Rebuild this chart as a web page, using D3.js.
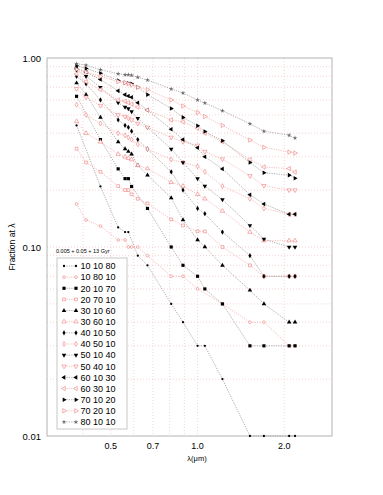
<!DOCTYPE html>
<html>
<head>
<meta charset="utf-8">
<script src="https://cdn.jsdelivr.net/npm/d3@7"></script>
<style>
  body { margin: 0; background: #fff; }
  text { font-family: "Liberation Sans", Arial, sans-serif; }
</style>
</head>
<body>
<svg id="chart"></svg>
<script>
// wavelengths (micron) of the sampled points
const wavelengths = [0.38, 0.41, 0.46, 0.53, 0.56, 0.575, 0.59, 0.62, 0.67, 0.81, 0.89, 1.0, 1.06, 1.22, 1.52, 1.70, 2.08, 2.18];

const seriesNames = ["10 10 80", "10 80 10", "20 10 70", "20 70 10", "30 10 60", "30 60 10", "40 10 50", "40 50 10",
  "50 10 40", "50 40 10", "60 10 30", "60 30 10", "70 10 20", "70 20 10", "80 10 10"];

// fraction at lambda, null = no point
const s10_10_80 = [0.44, null, 0.209, 0.127, 0.12, 0.12, null, 0.09, 0.08, 0.05, 0.04, 0.03, 0.03, 0.02, 0.01, 0.01, 0.01, 0.01];
const s10_80_10 = [0.169, 0.139, 0.129, 0.109, 0.109, 0.1, 0.1, 0.1, 0.09, 0.07, 0.07, 0.06, null, 0.05, 0.04, 0.04, 0.03, 0.03];
const s20_10_70 = [0.627, null, 0.37, 0.259, 0.23, 0.23, 0.209, null, 0.16, 0.1, 0.08, 0.07, 0.06, 0.05, 0.03, 0.03, 0.03, 0.03];
const s20_70_10 = [0.331, 0.28, 0.25, 0.21, 0.2, 0.2, 0.19, 0.18, 0.17, 0.14, 0.13, 0.121, 0.121, 0.1, 0.08, 0.07, 0.07, 0.07];
const s30_10_60 = [0.737, 0.64, 0.485, 0.36, 0.33, 0.32, 0.31, 0.27, 0.24, 0.182, 0.139, 0.109, 0.1, 0.08, 0.059, 0.05, 0.04, 0.04];
const s30_60_10 = [0.462, 0.4, 0.36, 0.31, 0.3, 0.295, 0.29, 0.27, 0.26, 0.22, 0.21, 0.19, 0.18, 0.155, 0.12, 0.108, 0.108, 0.108];
const s40_10_50 = [0.80, 0.73, 0.6, 0.47, 0.44, 0.43, 0.41, 0.37, 0.33, 0.25, 0.2, 0.16, 0.15, 0.12, 0.09, 0.07, 0.07, 0.07];
const s40_50_10 = [0.566, 0.5, 0.45, 0.4, 0.39, 0.38, 0.37, 0.35, 0.33, 0.29, 0.28, 0.267, 0.25, 0.21, 0.18, 0.16, 0.149, 0.149];
const s50_10_40 = [0.864, 0.8, 0.7, 0.58, 0.55, 0.54, 0.52, 0.48, 0.43, 0.33, 0.28, 0.23, 0.21, 0.178, 0.13, 0.11, 0.1, 0.1];
const s50_40_10 = [0.688, 0.62, 0.56, 0.5, 0.49, 0.48, 0.47, 0.45, 0.43, 0.38, 0.36, 0.345, 0.32, 0.292, 0.238, 0.211, 0.2, 0.2];
const s60_10_30 = [0.885, 0.84, 0.77, 0.67, 0.64, 0.63, 0.62, 0.58, 0.53, 0.42, 0.37, 0.335, 0.3, 0.259, 0.189, 0.169, 0.149, 0.149];
const s60_30_10 = [0.823, 0.75, 0.68, 0.6, 0.59, 0.58, 0.57, 0.55, 0.53, 0.47, 0.46, 0.425, 0.40, 0.36, 0.29, 0.265, 0.26, 0.249];
const s70_10_20 = [0.91, 0.88, 0.83, 0.76, 0.74, 0.735, 0.73, 0.7, 0.64, 0.54, 0.485, 0.438, 0.408, 0.365, 0.28, 0.247, 0.24, 0.231];
const s70_20_10 = [0.87, 0.84, 0.8, 0.75, 0.74, 0.73, 0.72, 0.7, 0.68, 0.6, 0.557, 0.515, 0.49, 0.44, 0.368, 0.337, 0.318, 0.314];
const s80_10_10 = [0.933, 0.915, 0.867, 0.826, 0.816, 0.816, 0.81, 0.79, 0.765, 0.686, 0.653, 0.6, 0.578, 0.526, 0.449, 0.41, 0.39, 0.377];

const xTicks = [0.5, 0.7, 1.0, 2.0];
const yTicks = [0.01, 0.1, 1.0];
const legendTitle = "0.005 + 0.05 + 13 Gyr";

const values = [s10_10_80, s10_80_10, s20_10_70, s20_70_10, s30_10_60, s30_60_10, s40_10_50, s40_50_10,
  s50_10_40, s50_40_10, s60_10_30, s60_30_10, s70_10_20, s70_20_10, s80_10_10];

// marker style per series: [d3 symbol, size, rotation, open?]
const markers = [
  [d3.symbolCircle, 4, 0, false], [d3.symbolCircle, 6, 0, true],
  [d3.symbolSquare, 10, 0, false], [d3.symbolSquare, 8, 0, true],
  [d3.symbolTriangle, 9, 0, false], [d3.symbolTriangle, 8, 0, true],
  [d3.symbolDiamond, 8, 0, false], [d3.symbolDiamond, 7, 0, true],
  [d3.symbolTriangle, 9, 180, false], [d3.symbolTriangle, 8, 180, true],
  [d3.symbolTriangle, 9, -90, false], [d3.symbolTriangle, 8, -90, true],
  [d3.symbolTriangle, 9, 90, false], [d3.symbolTriangle, 8, 90, true],
  [d3.symbolStar, 7, 0, false]
];

const width = 383, height = 495;
const svg = d3.select("#chart").attr("width", width).attr("height", height);

const x = d3.scaleLog().domain([0.3, 2.93]).range([47, 332]);
const y = d3.scaleLog().domain([0.01, 1]).range([436, 58]);

const grid = svg.append("g");
const minorX = [0.4, 0.5, 0.6, 0.7, 0.8, 0.9, 1, 2];
grid.selectAll("line.vx").data(minorX).enter().append("line")
  .attr("x1", d => x(d)).attr("x2", d => x(d))
  .attr("y1", y(1)).attr("y2", y(0.01))
  .attr("stroke", "#f2b5b5").attr("stroke-width", 0.6).attr("stroke-dasharray", "1,2");
const minorY = [];
[0.01, 0.1].forEach(b => { for (let k = 1; k < 10; k++) minorY.push(b * k); });
grid.selectAll("line.hy").data(minorY.filter(d => d > 0.01)).enter().append("line")
  .attr("x1", x.range()[0]).attr("x2", x.range()[1])
  .attr("y1", d => y(d)).attr("y2", d => y(d))
  .attr("stroke", "#f2b5b5").attr("stroke-width", 0.6).attr("stroke-dasharray", "1,2");

svg.append("rect")
  .attr("x", 47).attr("y", 58).attr("width", 332 - 47).attr("height", 436 - 58)
  .attr("fill", "none").attr("stroke", "#a0a0a0").attr("stroke-width", 0.8);

// series
const line = d3.line().x(d => x(d[0])).y(d => y(d[1]));
values.forEach((vals, i) => {
  const pink = i % 2 === 1;
  const pts = wavelengths.map((w, j) => [w, vals[j]]).filter(d => d[1] != null);
  const col = pink ? "#f4a0a0" : "#8a8a8a";
  svg.append("path").datum(pts)
    .attr("d", line).attr("fill", "none")
    .attr("stroke", col).attr("stroke-width", 0.7).attr("stroke-dasharray", "1.2,1.2");
  const m = markers[i];
  const sym = d3.symbol().type(m[0]).size(m[1]);
  svg.append("g").selectAll("path").data(pts).enter().append("path")
    .attr("d", sym)
    .attr("transform", d => `translate(${x(d[0])},${y(d[1])}) rotate(${m[2]})`)
    .attr("fill", m[3] ? "#fff" : (i === 14 ? "#707070" : "#000"))
    .attr("stroke", m[3] ? "#f07a7a" : "none")
    .attr("stroke-width", 0.6);
});

// axes labels
svg.append("g").selectAll("text").data(yTicks).enter().append("text")
  .attr("x", 41).attr("y", d => y(d) + 3.5).attr("text-anchor", "end")
  .attr("font-size", 9.5).text(d => d.toFixed(2));
svg.append("g").selectAll("text").data(xTicks).enter().append("text")
  .attr("x", d => x(d)).attr("y", 449).attr("text-anchor", "middle")
  .attr("font-size", 9).text(d => d.toFixed(1));
svg.append("text").attr("x", 197).attr("y", 461).attr("text-anchor", "middle")
  .attr("font-size", 7.5).text("λ(μm)");
svg.append("text").attr("transform", "translate(15,247) rotate(-90)")
  .attr("text-anchor", "middle").attr("font-size", 8.5).text("Fraction at λ");

// legend
svg.append("text").attr("x", 56).attr("y", 253).attr("font-size", 5.5).text(legendTitle);
svg.append("rect").attr("x", 57).attr("y", 258).attr("width", 70).attr("height", 171)
  .attr("fill", "#fff").attr("stroke", "#c8c8c8").attr("stroke-width", 1);
const leg = svg.append("g").selectAll("g").data(seriesNames).enter().append("g")
  .attr("transform", (d, i) => `translate(0,${266 + i * 11.14})`);
leg.append("line").attr("x1", 64).attr("x2", 76).attr("y1", 0).attr("y2", 0)
  .attr("stroke", (d, i) => i % 2 ? "#f4a0a0" : "#8a8a8a").attr("stroke-width", 0.7)
  .attr("stroke-dasharray", "1.2,1.2");
[64, 76].forEach(px => {
  leg.append("path")
    .attr("d", (d, i) => d3.symbol().type(markers[i][0]).size(markers[i][1])())
    .attr("transform", (d, i) => `translate(${px},0) rotate(${markers[i][2]})`)
    .attr("fill", (d, i) => markers[i][3] ? "#fff" : (i === 14 ? "#707070" : "#000"))
    .attr("stroke", (d, i) => markers[i][3] ? "#f07a7a" : "none")
    .attr("stroke-width", 0.6);
});
leg.append("text").attr("x", 80.5).attr("y", 3.3).attr("font-size", 9).text(d => d);
</script>
</body>
</html>
